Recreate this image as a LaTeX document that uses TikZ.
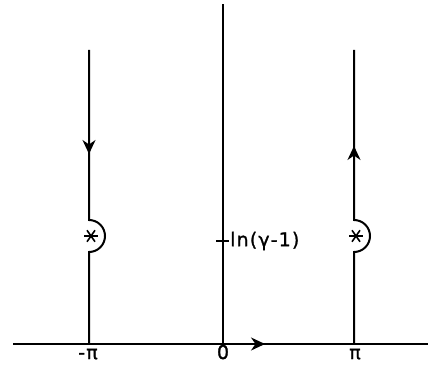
\documentclass[tikz,border=0pt]{standalone}
\usepackage{fontspec}
\setmainfont{DejaVu Sans}[LetterSpace=6,FakeBold=1.2]
\usetikzlibrary{arrows.meta,positioning}

\tikzset{
	contour/.style={line width=2pt},
	flow/.style={contour,-{Stealth[length=14pt,width=13pt,inset=4.5pt]}},
	lbl/.style={font=\fontsize{19}{22}\selectfont,inner sep=1pt},
	pole/.style={minimum size=14pt,inner sep=0pt,
		path picture={
			\draw[line width=1.6pt] (path picture bounding box.west) -- (path picture bounding box.east);
			\draw[line width=1.6pt] ([shift={(55:7pt)}]path picture bounding box.center) -- ([shift={(235:7pt)}]path picture bounding box.center);
			\draw[line width=1.6pt] ([shift={(125:7pt)}]path picture bounding box.center) -- ([shift={(305:7pt)}]path picture bounding box.center);
		}}
}

\begin{document}
\begin{tikzpicture}[x=1pt,y=1pt]
	\useasboundingbox (0,0) rectangle (430,370);
	% real axis
	\coordinate (axleft) at (13,26);
	\coordinate (axright) at (428,26);
	\coordinate (mpi) at (89,26);
	\coordinate (zero) at (223,26);
	\coordinate (ppi) at (354,26);
	\coordinate (axarrow) at (265,26);
	\draw[contour] (axleft) -- (axright);
	\draw[flow] (zero) -- (axarrow);
	% imaginary direction
	\coordinate (ztop) at (223,366);
	\draw[contour] (zero) -- (ztop);
	\coordinate (tickl) at (216,129);
	\coordinate (tickr) at (229,129);
	\draw[contour] (tickl) -- (tickr);
	\node[lbl,anchor=west] (lnlab) at (tickr) {ln(γ-1)};
	% left line, going down
	\coordinate (ltop) at (89,320);
	\coordinate (larrow) at (89,216);
	\coordinate (lbump) at (89,150);
	\draw[contour] (ltop) -- (lbump) arc[start angle=90,end angle=-90,radius=16] -- (mpi);
	\draw[flow] (ltop) -- (larrow);
	\node[pole] (lpole) at (91,134) {};
	% right line, going up
	\coordinate (rtop) at (354,320);
	\coordinate (rarrow) at (354,224);
	\coordinate (rbump) at (354,150);
	\draw[contour] (rtop) -- (rbump) arc[start angle=90,end angle=-90,radius=16] -- (ppi);
	\draw[flow] (rbump) -- (rarrow);
	\node[pole] (rpole) at (356,134) {};
	% tick labels
	\node[lbl,anchor=base] (lmpi) at (88,11) {-π};
	\node[lbl,anchor=base] (lzero) at (223,11) {0};
	\node[lbl,anchor=base] (lppi) at (355,11) {π};
\end{tikzpicture}
\end{document}
